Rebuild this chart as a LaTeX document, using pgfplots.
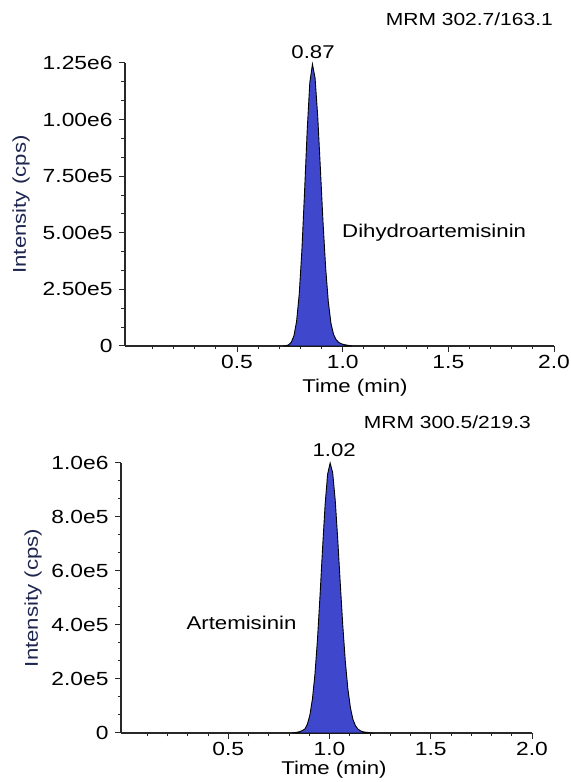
\documentclass[border=0pt]{standalone}
\usepackage{fontspec}
\setmainfont[FakeStretch=1.2]{Liberation Sans}
\usepackage{pgfplots}
\pgfplotsset{compat=1.18}
\definecolor{peakblue}{RGB}{63,72,204}
\definecolor{labnavy}{RGB}{30,38,80}
\definecolor{axgray}{RGB}{40,40,40}
\newcommand{\fa}{\fontsize{18.5bp}{22bp}\selectfont}
\newcommand{\ft}{\fontsize{19bp}{22bp}\selectfont}
\newcommand{\fb}{\fontsize{17.5bp}{21bp}\selectfont}
\pgfplotsset{chrom/.style={
  scale only axis,
  axis x line*=bottom, axis y line*=left,
  axis line style={axgray, line width=1.3bp},
  tick align=outside,
  major tick length=6bp, minor tick length=3.5bp,
  every tick/.style={axgray, line width=1bp},
  xmin=-0.03, xmax=2.0, ymin=0,
  xtick={0.5,1.0,1.5,2.0}, xticklabels={0.5,1.0,1.5,2.0},
  minor xtick={0.1,0.2,0.3,0.4,0.6,0.7,0.8,0.9,1.1,1.2,1.3,1.4,1.6,1.7,1.8,1.9},
  minor y tick num=2,
  /pgf/number format/assume math mode=true,
  tick label style={font=\ft, text=black},
  yticklabel style={xshift=-3bp},
  xlabel={Time (min)}, ylabel={Intensity (cps)},
  xlabel style={font=\fa, text=black},
  ylabel style={font=\fa, text=labnavy},
  scaled y ticks=false,
  clip=false,
}}
\pgfplotstableread{
t I
0.7195 0
0.7320 1400
0.7445 5200
0.7570 16500
0.7695 45400
0.7820 109300
0.7945 229800
0.8070 422300
0.8195 677700
0.8320 950200
0.8445 1163700
0.8570 1245000
0.8695 1182600
0.8820 1013800
0.8945 784100
0.9070 547300
0.9195 344700
0.9320 196000
0.9445 100500
0.9570 50500
0.9695 27400
0.9820 15300
0.9945 9500
1.0070 6000
1.0195 4000
1.0320 2000
1.0445 0
}\dha
\pgfplotstableread{
t I
0.8155 0
0.8280 1500
0.8405 3000
0.8530 5000
0.8655 9000
0.8780 14600
0.8905 32600
0.9030 66900
0.9155 126100
0.9280 218500
0.9405 347700
0.9530 508700
0.9655 683700
0.9780 844500
0.9905 958600
1.0030 1000000
1.0155 963800
1.0280 862700
1.0405 717300
1.0530 553900
1.0655 397300
1.0780 264700
1.0905 163800
1.1030 94100
1.1155 50300
1.1280 27000
1.1405 14500
1.1530 8000
1.1655 4500
1.1780 3000
1.1905 2000
1.2030 0
}\art
\begin{document}
\begin{tikzpicture}
\path[use as bounding box] (0,0) rectangle (571bp,782bp);
% top panel
\begin{axis}[chrom, at={(125bp,436bp)}, anchor=south west,
  width=429bp, height=283bp, ymax=1.25e6,
  ytick={0,250000,500000,750000,1000000,1250000},
  yticklabels={0,2.50e5,5.00e5,7.50e5,1.00e6,1.25e6},
  ylabel style={at={(axis description cs:0,0.5)}, anchor=center, yshift=104bp},
  xlabel style={at={(axis description cs:0.536,0)}, anchor=center, yshift=-42bp}]
\addplot[sharp plot, fill=peakblue, draw=black, line width=0.9bp] table[x=t,y=I] {\dha} \closedcycle;
\node[anchor=base, inner sep=0pt, font=\fa, yshift=4.5bp] at (axis cs:0.86,1250000) {0.87};
\node[anchor=base west, inner sep=0pt, font=\fa] at (axis cs:0.997,479000) {Dihydroartemisinin};
\node[anchor=base east, inner sep=0pt, font=\fb, yshift=37bp, xshift=-1bp] at (axis description cs:1,1) {MRM 302.7/163.1};
\end{axis}
% bottom panel
\begin{axis}[chrom, at={(121bp,49bp)}, anchor=south west,
  width=411bp, height=270bp, ymax=1.0e6,
  ytick={0,200000,400000,600000,800000,1000000},
  yticklabels={0,2.0e5,4.0e5,6.0e5,8.0e5,1.0e6},
  ylabel style={at={(axis description cs:0,0.5)}, anchor=center, yshift=88bp},
  xlabel style={at={(axis description cs:0.518,0)}, anchor=center, yshift=-37bp}]
\addplot[sharp plot, fill=peakblue, draw=black, line width=0.9bp] table[x=t,y=I] {\art} \closedcycle;
\node[anchor=base, inner sep=0pt, font=\fa, yshift=6.5bp] at (axis cs:1.023,1000000) {1.02};
\node[anchor=base west, inner sep=0pt, font=\fa] at (axis cs:0.293,383000) {Artemisinin};
\node[anchor=base east, inner sep=0pt, font=\fb, yshift=34bp, xshift=-1bp] at (axis description cs:1,1) {MRM 300.5/219.3};
\end{axis}
\end{tikzpicture}
\end{document}
